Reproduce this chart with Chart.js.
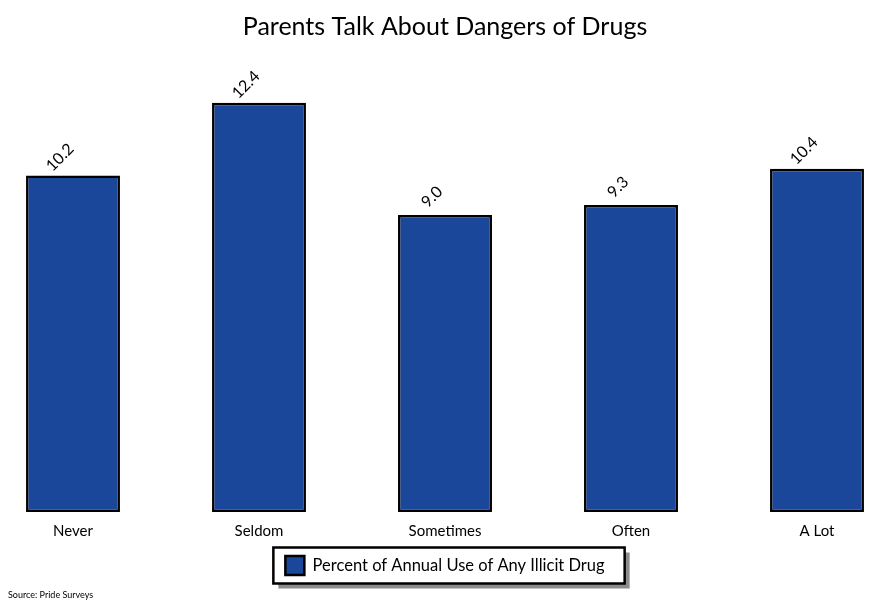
<!DOCTYPE html>
<html>
<head>
<meta charset="utf-8">
<script src="https://cdn.jsdelivr.net/npm/chart.js@4.4.1/dist/chart.umd.min.js"></script>
<style>
  html, body { margin: 0; padding: 0; background: #ffffff; overflow: hidden; }
  body { width: 869px; height: 602px; position: relative; }
  #wrap { position: absolute; left: -20px; top: 0; width: 930px; height: 602px; }
  #source { position: absolute; left: 8px; top: 589px; font-family: Lato, sans-serif; font-size: 9px; color: #000; }
</style>
</head>
<body>
<div id="wrap"><canvas id="c" width="930" height="602"></canvas></div>
<div id="source">Source: Pride Surveys</div>
<script>
const chartTitle = "Parents Talk About Dangers of Drugs";
const categories = ["Never", "Seldom", "Sometimes", "Often", "A Lot"];
const seriesName = "Percent of Annual Use of Any Illicit Drug";
const seriesValues = [10.2, 12.4, 9.0, 9.3, 10.4];

const FONT = "Lato, 'DejaVu Sans', sans-serif";
const BAR_BLUE = "#1b479b";

const valueLabels = {
  id: "valueLabels",
  afterDatasetsDraw(chart) {
    const ctx = chart.ctx;
    const meta = chart.getDatasetMeta(0);
    ctx.save();
    ctx.font = "16px " + FONT;
    ctx.fillStyle = "#000";
    ctx.textAlign = "center";
    ctx.textBaseline = "middle";
    meta.data.forEach((bar, i) => {
      const v = chart.data.datasets[0].data[i];
      ctx.save();
      ctx.translate(bar.x - 13, bar.y - 18);
      ctx.rotate(-Math.PI / 4);
      ctx.fillText(v.toFixed(1), 0, 0);
      ctx.restore();
    });
    ctx.restore();
  }
};

const legendFrame = {
  id: "legendFrame",
  beforeDraw(chart) {
    const lg = chart.legend;
    if (!lg || !lg.legendHitBoxes || !lg.legendHitBoxes.length) return;
    const hb = lg.legendHitBoxes[0];
    const cy = hb.top + hb.height / 2;
    const left = hb.left - 12;
    const right = hb.left + hb.width + 20;
    const top = cy - 18;
    const bottom = cy + 18;
    const ctx = chart.ctx;
    ctx.save();
    ctx.fillStyle = "#8c8c8c";
    ctx.fillRect(left + 5, top + 5, right - left, bottom - top);
    ctx.fillStyle = "#ffffff";
    ctx.fillRect(left, top, right - left, bottom - top);
    ctx.strokeStyle = "#000";
    ctx.lineWidth = 2.5;
    ctx.strokeRect(left, top, right - left, bottom - top);
    ctx.restore();
  }
};

new Chart(document.getElementById("c"), {
  type: "bar",
  data: {
    labels: categories,
    datasets: [{
      label: seriesName,
      data: seriesValues,
      backgroundColor: BAR_BLUE,
      borderColor: "#000",
      borderWidth: 2.5,
      borderSkipped: false,
      categoryPercentage: 1.0,
      barPercentage: 0.505
    }]
  },
  options: {
    responsive: false,
    animation: false,
    layout: { padding: { top: 8, bottom: 17, left: 0, right: 0 } },
    scales: {
      x: {
        grid: { display: false, drawTicks: false },
        border: { display: false },
        ticks: { color: "#000", font: { family: FONT, size: 15 }, padding: 10, maxRotation: 0 }
      },
      y: {
        display: false,
        min: 0,
        max: 14
      }
    },
    plugins: {
      title: {
        display: true,
        text: chartTitle,
        color: "#000",
        font: { family: FONT, size: 25, weight: "normal" },
        padding: { top: 4, bottom: 8 }
      },
      legend: {
        display: true,
        position: "bottom",
        labels: {
          color: "#000",
          font: { family: FONT, size: 16.5 },
          boxWidth: 19,
          boxHeight: 19,
          padding: 6
        }
      },
      tooltip: { enabled: false }
    }
  },
  plugins: [valueLabels, legendFrame]
});
</script>
</body>
</html>
